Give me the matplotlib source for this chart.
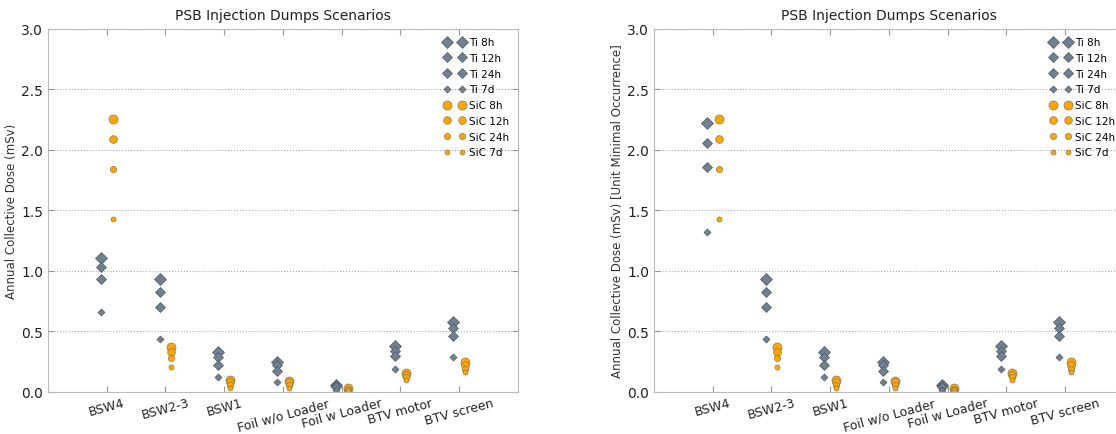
import numpy as np
import matplotlib
matplotlib.use("Agg")
import matplotlib.pyplot as plt

categories = ["BSW4", "BSW2-3", "BSW1", "Foil w/o Loader", "Foil w Loader", "BTV motor", "BTV screen"]
durations = ["8h", "12h", "24h", "7d"]

# dose per scenario, one list per duration (8h, 12h, 24h, 7d)
ti_8h = [1.11, 0.93, 0.33, 0.25, 0.06, 0.38, 0.58]
ti_12h = [1.03, 0.83, 0.29, 0.22, 0.05, 0.34, 0.53]
ti_24h = [0.93, 0.70, 0.22, 0.17, 0.04, 0.30, 0.46]
ti_7d = [0.66, 0.44, 0.12, 0.08, 0.02, 0.19, 0.29]

sic_8h = [2.26, 0.37, 0.10, 0.09, 0.03, 0.16, 0.25]
sic_12h = [2.09, 0.33, 0.08, 0.08, 0.02, 0.14, 0.22]
sic_24h = [1.84, 0.28, 0.06, 0.06, 0.02, 0.12, 0.19]
sic_7d = [1.43, 0.21, 0.03, 0.03, 0.01, 0.10, 0.165]

# right panel: normalised to unit minimal occurrence (only BSW4 Ti differs)
ti_unit_8h = [2.22, 0.93, 0.33, 0.25, 0.06, 0.38, 0.58]
ti_unit_12h = [2.06, 0.83, 0.29, 0.22, 0.05, 0.34, 0.53]
ti_unit_24h = [1.86, 0.70, 0.22, 0.17, 0.04, 0.30, 0.46]
ti_unit_7d = [1.32, 0.44, 0.12, 0.08, 0.02, 0.19, 0.29]

ti_sizes = [7.5, 6.5, 5.5, 4.2]
sic_sizes = [6.5, 5.5, 4.5, 3.6]
ti_color = "#708090"
sic_color = "#ffa500"

fig = plt.figure(figsize=(11.16, 4.35), dpi=100)


def panel(ax, ti_series, sic_series, ylabel):
    x = np.arange(len(categories))
    for vals, dur, ms in zip(ti_series, durations, ti_sizes):
        ax.plot(x - 0.1, vals, ls="none", marker="D", ms=ms * 0.85, mfc=ti_color,
                mec="#4f5a66", mew=0.5, label="Ti " + dur)
    for vals, dur, ms in zip(sic_series, durations, sic_sizes):
        ax.plot(x + 0.1, vals, ls="none", marker="o", ms=ms, mfc=sic_color,
                mec="#8a7a5a", mew=0.5, label="SiC " + dur)
    ax.set_xlim(-1, len(categories))
    ax.set_ylim(0, 3.0)
    ax.set_yticks(np.arange(0, 3.01, 0.5))
    ax.set_yticklabels(["%.1f" % v for v in np.arange(0, 3.01, 0.5)])
    ax.set_xticks(x)
    ax.set_xticklabels(categories, rotation=15, ha="center")
    ax.tick_params(direction="in", top=True, right=True, length=4,
                   color="#999999", labelsize=10, labelcolor="#222222")
    ax.tick_params(axis="x", labelsize=9, pad=3)
    ax.yaxis.grid(True, ls=":", color="#aaaaaa", lw=0.8)
    for s in ax.spines.values():
        s.set_color("#bbbbbb")
    ax.set_title("PSB Injection Dumps Scenarios", fontsize=10, color="#222222", pad=7)
    ax.set_ylabel(ylabel, fontsize=8.5, color="#333333", labelpad=2)
    ax.legend(loc="upper right", frameon=False, numpoints=2, fontsize=7.5,
              handlelength=2.0, labelspacing=0.55, borderaxespad=0.4, handletextpad=0.45)


ax1 = fig.add_axes([0.043, 0.0966, 0.4211, 0.8345])
panel(ax1, [ti_8h, ti_12h, ti_24h, ti_7d], [sic_8h, sic_12h, sic_24h, sic_7d],
      "Annual Collective Dose (mSv)")

ax2 = fig.add_axes([0.586, 0.0966, 0.4211, 0.8345])
panel(ax2, [ti_unit_8h, ti_unit_12h, ti_unit_24h, ti_unit_7d],
      [sic_8h, sic_12h, sic_24h, sic_7d],
      "Annual Collective Dose (mSv) [Unit Minimal Occurrence]")

fig.savefig("out.png", dpi=100)
